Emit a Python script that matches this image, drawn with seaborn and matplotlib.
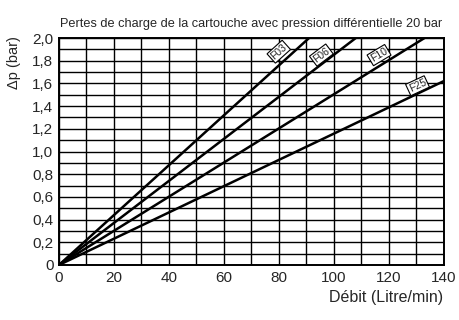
import matplotlib
matplotlib.use('Agg')
import matplotlib.pyplot as plt
import seaborn as sns
import pandas as pd
import numpy as np

# Data (end points of each straight line)
cartouches = ['F03', 'F06', 'F10', 'F25']
debit_start = [0, 0, 0, 0]
dp_start = [0.0, 0.0, 0.0, 0.0]
debit_end = [91, 108, 133, 140]
dp_end = [2.0, 2.0, 2.0, 1.62]

# label placement along the lines
label_x = [80.0, 95.5, 116.5, 130.5]
label_y = [1.88, 1.85, 1.85, 1.58]
label_rot = [42, 37, 31, 25]

x_ticks = [0, 20, 40, 60, 80, 100, 120, 140]
y_ticks = [0, 0.2, 0.4, 0.6, 0.8, 1.0, 1.2, 1.4, 1.6, 1.8, 2.0]
y_ticklabels = ['0', '0,2', '0,4', '0,6', '0,8', '1,0', '1,2', '1,4', '1,6', '1,8', '2,0']

rows = []
for i, c in enumerate(cartouches):
    rows.append({'Cartouche': c, 'Debit': debit_start[i], 'dp': dp_start[i]})
    rows.append({'Cartouche': c, 'Debit': debit_end[i], 'dp': dp_end[i]})
df = pd.DataFrame(rows)

sns.set_style('white')
plt.rcParams['font.family'] = ['Liberation Sans', 'DejaVu Sans']

fig = plt.figure(figsize=(4.59, 3.2), dpi=100)
ax = fig.add_axes([0.1285, 0.172, 0.838, 0.709])

sns.lineplot(data=df, x='Debit', y='dp', hue='Cartouche',
             palette=['black'] * 4, linewidth=1.8, legend=False, ax=ax,
             zorder=3)

ax.set_xlim(0, 140)
ax.set_ylim(0, 2.0)

# grid: every 10 L/min and every 0.1 bar
ax.set_xticks(np.arange(0, 141, 10), minor=True)
ax.set_yticks(np.arange(0, 2.01, 0.1), minor=True)
ax.set_xticks(x_ticks)
ax.set_yticks(y_ticks)
ax.set_yticklabels(y_ticklabels)
ax.grid(which='both', color='black', linewidth=1.0)
ax.tick_params(axis='both', which='major', direction='out', length=3,
               width=1, labelsize=11, pad=1, color='black')
ax.tick_params(axis='both', which='minor', length=0)
for s in ax.spines.values():
    s.set_color('black')
    s.set_linewidth(1.4)

for i, c in enumerate(cartouches):
    ax.text(label_x[i], label_y[i], c, fontsize=7.5, rotation=label_rot[i],
            ha='center', va='center', rotation_mode='anchor', zorder=4,
            bbox=dict(boxstyle='square,pad=0.12', fc='white', ec='black', lw=0.8))

ax.set_xlabel('Débit (Litre/min)', fontsize=11.5, loc='right', labelpad=4)
ax.set_ylabel('Δp (bar)', fontsize=10.5, loc='top', labelpad=0)
ax.yaxis.set_label_coords(-0.1, 1.01)

ax.set_title('Pertes de charge de la cartouche avec pression différentielle 20 bar',
             fontsize=9.2, pad=8)

fig.savefig('out.png', dpi=100)
